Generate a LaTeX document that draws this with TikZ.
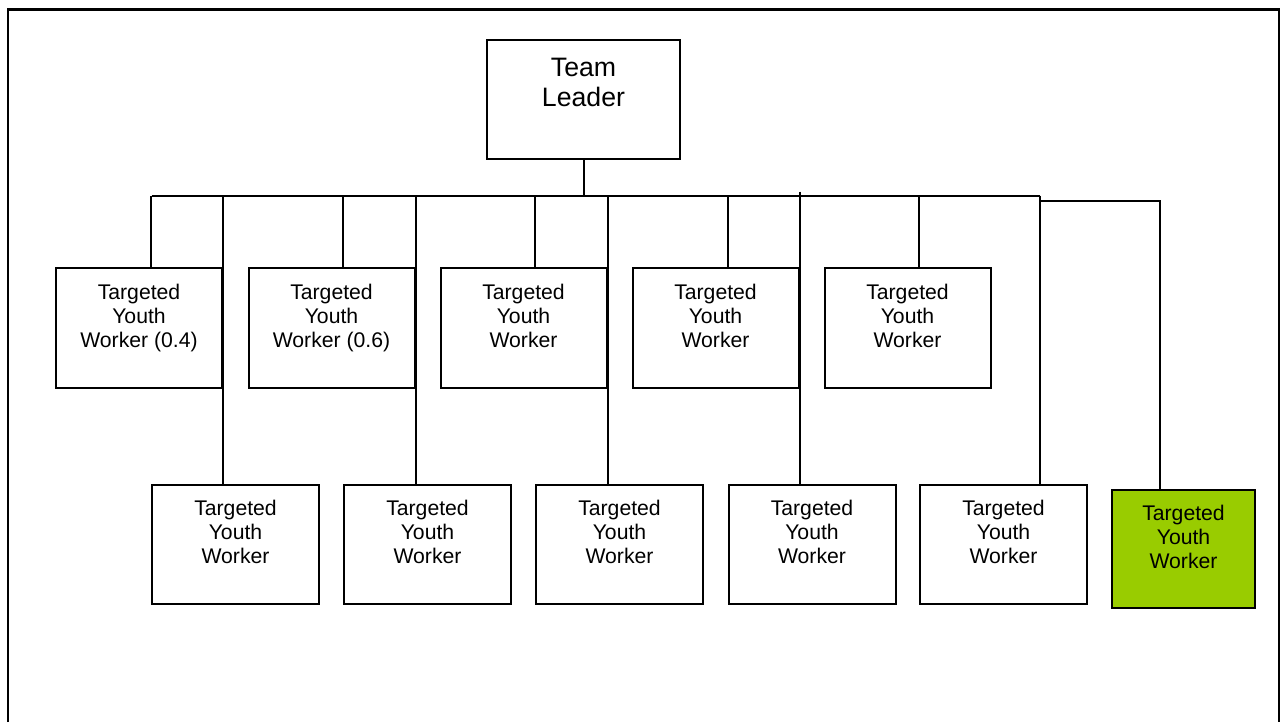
\documentclass[tikz,border=0pt]{standalone}
\usepackage{fontspec}
\setmainfont{Liberation Sans}
\usetikzlibrary{calc}
\definecolor{lime}{RGB}{153,204,0}
\begin{document}
\begin{tikzpicture}[x=0.75pt,y=-0.75pt,
  box/.style={draw, line width=1.5pt, rectangle, inner sep=0pt},
  upbox/.style={box, minimum width=124.5pt, minimum height=90pt},
  lowbox/.style={box, minimum width=125.25pt, minimum height=89.25pt},
  txt/.style={inner sep=0pt, align=center, font=\fontsize{15.9pt}{18pt}\selectfont, anchor=north},
  bigtxt/.style={inner sep=0pt, align=center, font=\fontsize{20pt}{22.5pt}\selectfont, anchor=north},
  conn/.style={line width=1.5pt}
]
\useasboundingbox (0,0) rectangle (1287,722);
% outer frame
\draw[line width=1.8pt] (8,722) -- (8,9.5) -- (1279,9.5) -- (1279,722);

% team leader
\node[box, minimum width=144.75pt, minimum height=89.25pt] (tl) at (583.5,99.5) {};
\node[bigtxt] (tlt) at ($(tl.north)+(0,19)$) {Team\\Leader};

% upper row
\node[upbox] (u1) at (139,328) {};
\node[upbox] (u2) at (331.5,328) {};
\node[upbox] (u3) at (523.5,328) {};
\node[upbox] (u4) at (715.5,328) {};
\node[upbox] (u5) at (907.5,328) {};
\node[txt] (u1t) at ($(u1.north)+(0,17)$) {Targeted\\Youth\\Worker (0.4)};
\node[txt] (u2t) at ($(u2.north)+(0,17)$) {Targeted\\Youth\\Worker (0.6)};
\node[txt] (u3t) at ($(u3.north)+(0,17)$) {Targeted\\Youth\\Worker};
\node[txt] (u4t) at ($(u4.north)+(0,17)$) {Targeted\\Youth\\Worker};
\node[txt] (u5t) at ($(u5.north)+(0,17)$) {Targeted\\Youth\\Worker};

% lower row
\node[lowbox] (l1) at (235.5,544.5) {};
\node[lowbox] (l2) at (427.5,544.5) {};
\node[lowbox] (l3) at (619.5,544.5) {};
\node[lowbox] (l4) at (812,544.5) {};
\node[lowbox] (l5) at (1003.5,544.5) {};
\node[box, fill=lime, minimum width=107.25pt, minimum height=88.5pt] (g) at (1183.5,549) {};
\node[txt] (l1t) at ($(l1.north)+(0,16)$) {Targeted\\Youth\\Worker};
\node[txt] (l2t) at ($(l2.north)+(0,16)$) {Targeted\\Youth\\Worker};
\node[txt] (l3t) at ($(l3.north)+(0,16)$) {Targeted\\Youth\\Worker};
\node[txt] (l4t) at ($(l4.north)+(0,16)$) {Targeted\\Youth\\Worker};
\node[txt] (l5t) at ($(l5.north)+(0,16)$) {Targeted\\Youth\\Worker};
\node[txt] (gt) at ($(g.north)+(0,16)$) {Targeted\\Youth\\Worker};

% connectors
\coordinate (busL) at (152,195.5);
\coordinate (busR) at (1040,195.5);
\coordinate (gk) at (1160,201);
\draw[conn] (tl.south) -- (tl.south |- busL);
\draw[conn] (busL) -- (busR);
\draw[conn] (l1.north west |- busL) -- (u1.north -| l1.north west);
\draw[conn] (l2.north west |- busL) -- (u2.north -| l2.north west);
\draw[conn] (l3.north west |- busL) -- (u3.north -| l3.north west);
\draw[conn] (l4.north west |- busL) -- (u4.north -| l4.north west);
\draw[conn] (l5.north west |- busL) -- (u5.north -| l5.north west);
\draw[conn] (u1.north east |- busL) -- (l1.north -| u1.north east);
\draw[conn] (u2.north east |- busL) -- (l2.north -| u2.north east);
\draw[conn] (u3.north east |- busL) -- (l3.north -| u3.north east);
\draw[conn] ($(u4.north east |- busL)+(0,-4)$) -- (l4.north -| u4.north east);
\draw[conn] (busR) -- (l5.north -| busR);
\draw[conn] (busR |- gk) -- (gk) -- (g.north -| gk);
\end{tikzpicture}
\end{document}
